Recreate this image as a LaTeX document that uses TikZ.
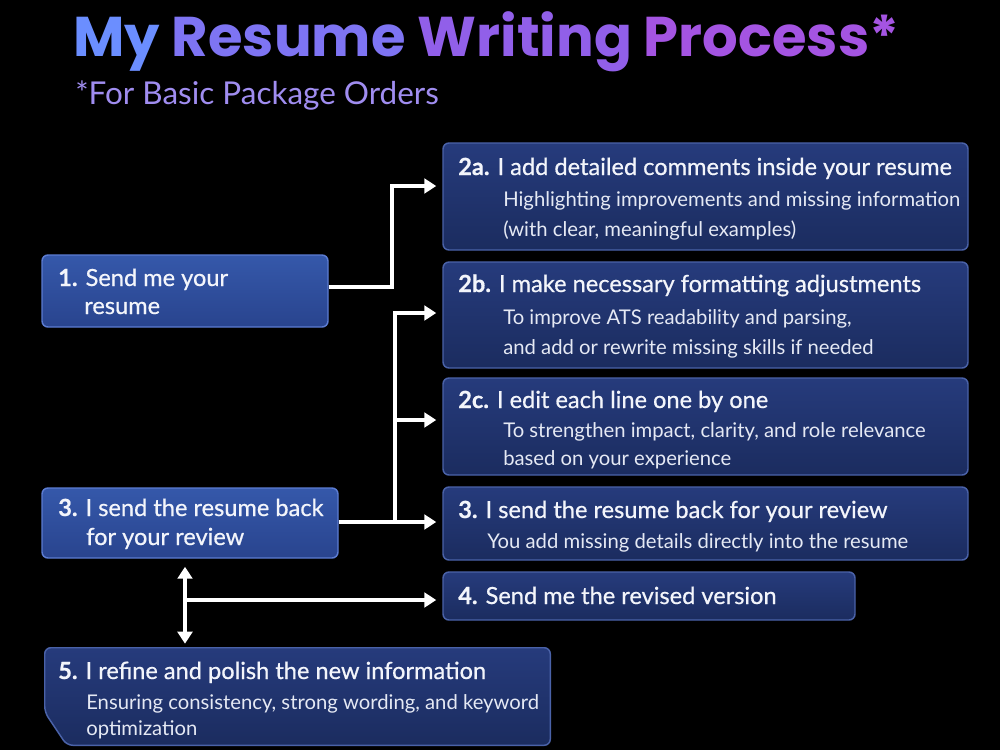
\documentclass[tikz,border=0pt]{standalone}
\usepackage{fontspec}
\setmainfont{Lato}
\newfontfamily\headfont{Poppins}
\newfontfamily\medfont[FakeBold=0.6]{Lato}
\usetikzlibrary{positioning, fit, arrows.meta}

\definecolor{boxtop}{HTML}{263B7C}
\definecolor{boxbot}{HTML}{1B2C5F}
\definecolor{boxedge}{HTML}{4A62A8}
\definecolor{hitop}{HTML}{3558AA}
\definecolor{hibot}{HTML}{29448E}
\definecolor{hiedge}{HTML}{5C7CD2}
\definecolor{titleA}{HTML}{6B8EFF}
\definecolor{titleB}{HTML}{7E74F3}
\definecolor{titleC}{HTML}{915FE9}
\definecolor{titleD}{HTML}{A454E2}
\definecolor{subtitle}{HTML}{A08DF0}
\definecolor{ink}{HTML}{F3F5FB}

\newcommand\headsize{\fontsize{17.7}{20}\selectfont}
\newcommand\notesize{\fontsize{15.2}{18}\selectfont}

\begin{document}
\begin{tikzpicture}[
    x=0.75pt, y=-0.75pt,
    stepbox/.style={draw=boxedge, line width=1.1pt, rounded corners=4.5pt,
                    top color=boxtop, bottom color=boxbot, inner sep=0pt},
    hibox/.style={stepbox, draw=hiedge, top color=hitop, bottom color=hibot},
    head/.style={anchor=base west, inner sep=0pt, text=ink, font=\headsize\medfont},
    note/.style={anchor=base west, inner sep=0pt, text=ink!92!boxedge, font=\notesize},
    link/.style={draw=white, line width=2.4pt},
    arr/.style={link, -{Triangle[length=9pt, width=11pt]}, shorten >=4.5pt},
    arrboth/.style={link, {Triangle[length=9pt, width=11pt]}-{Triangle[length=9pt, width=11pt]}}
]

% background
\fill[black] (0,0) rectangle (1000,750);
\useasboundingbox (0,0) rectangle (1000,750);

% title
\node[anchor=base west, inner sep=0pt, font=\headfont\bfseries\fontsize{42}{46}\selectfont] (title) at (73,56)
  {\textcolor{titleA}{My} \textcolor{titleB}{Resume} \textcolor{titleC}{Writing} \textcolor{titleD}{Process*}};
\node[anchor=base west, inner sep=0pt, text=subtitle, font=\fontsize{23.6}{26}\selectfont] (subtitle) at (75,104)
  {*For Basic Package Orders};

% boxes
\node[hibox, fit={(42,255) (328,327)}] (s1) {};
\node[stepbox, fit={(443,143) (968,250)}] (s2a) {};
\node[stepbox, fit={(443,262) (968,368)}] (s2b) {};
\node[stepbox, fit={(443,378) (968,475)}] (s2c) {};
\node[hibox, fit={(42,488) (338,558)}] (s3l) {};
\node[stepbox, fit={(443,487) (968,560)}] (s3r) {};
\node[stepbox, fit={(443,572) (855,620)}] (s4) {};
\node[inner sep=0pt, fit={(45,648) (550,745)}] (s5) {};
\draw[stepbox] (s5.south east) -- (s5.north east) -- (s5.north west)
  -- ([yshift=24.75pt]s5.south west) -- ([xshift=16.5pt]s5.south west) -- cycle;

% texts
\node[head] (t1a) at (58,286) {\textbf{1.} Send me your};
\node[head] (t1b) at (84,314) {resume};

\node[head] (t2a) at (458,175) {\textbf{2a.} I add detailed comments inside your resume};
\node[note] (n2a) at (503,206) {Highlighting improvements and missing information};
\node[note] (m2a) at (503,236) {(with clear, meaningful examples)};

\node[head] (t2b) at (458,292) {\textbf{2b.} I make necessary formatting adjustments};
\node[note] (n2b) at (503,324) {To improve ATS readability and parsing,};
\node[note] (m2b) at (503,354) {and add or rewrite missing skills if needed};

\node[head] (t2c) at (458,408) {\textbf{2c.} I edit each line one by one};
\node[note] (n2c) at (503,437) {To strengthen impact, clarity, and role relevance};
\node[note] (m2c) at (503,465) {based on your experience};

\node[head] (t3l) at (58,516) {\textbf{3.} I send the resume back};
\node[head] (u3l) at (86,545) {for your review};

\node[head] (t3r) at (458,518) {\textbf{3.} I send the resume back for your review};
\node[note] (n3r) at (487,548) {You add missing details directly into the resume};

\node[head] (t4) at (458,604) {\textbf{4.} Send me the revised version};

\node[head] (t5) at (58,679) {\textbf{5.} I refine and polish the new information};
\node[note] (n5) at (86,709) {Ensuring consistency, strong wording, and keyword};
\node[note] (m5) at (86,735) {optimization};

% connectors
\coordinate (fork1) at (392,287);
\coordinate (fork3) at (395,522);
\coordinate (fork4) at (185,600);

\draw[arr] (s1.east |- fork1) -- (fork1) |- (s2a.west |- 0,186);
\draw[arr] (s3l.east |- fork3) -- (s3r.west |- fork3);
\draw[arr] (fork3) |- (s2b.west |- 0,313);
\draw[arr] (fork3 |- 0,420) -- (s2c.west |- 0,420);
\draw[arrboth, shorten <=6pt, shorten >=3pt] (s3l.south -| fork4) -- (s5.north -| fork4);
\draw[arr] (fork4) -- (s4.west |- fork4);

\end{tikzpicture}
\end{document}
